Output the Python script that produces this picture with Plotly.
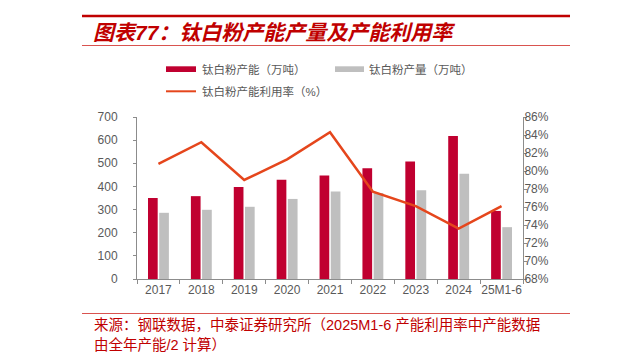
import plotly.graph_objects as go

categories = ["2017", "2018", "2019", "2020", "2021", "2022", "2023", "2024", "25M1-6"]
capacity = [350, 358, 397, 429, 447, 479, 508, 618, 294]      # 钛白粉产能（万吨）
output = [286, 299, 312, 346, 378, 372, 384, 455, 224]        # 钛白粉产量（万吨）
utilization = [80.8, 83.2, 79.0, 81.3, 84.3, 77.7, 76.1, 73.6, 76.1]  # 产能利用率（%）

left_ticks = [0, 100, 200, 300, 400, 500, 600, 700]
right_ticks = [68, 70, 72, 74, 76, 78, 80, 82, 84, 86]
right_tick_labels = ["68%", "70%", "72%", "74%", "76%", "78%", "80%", "82%", "84%", "86%"]

RED = "#C00030"
GREY = "#BFBFBF"
LINE = "#E5461C"
AXIS = "#8C8C8C"
TICKTXT = "#595959"
TITLE_RED = "#C00000"

W, H = 621, 356
L, R, T, B = 129, 106, 109, 85
PW, PH = W - L - R, H - T - B

def px(x):
    return (x - L) / PW

def py(y):
    return (H - B - y) / PH

fig = go.Figure()
fig.add_trace(go.Bar(x=categories, y=capacity, name="钛白粉产能（万吨）",
                     marker=dict(color=RED, line=dict(width=0)), showlegend=False))
fig.add_trace(go.Bar(x=categories, y=output, name="钛白粉产量（万吨）",
                     marker=dict(color=GREY, line=dict(width=0)), showlegend=False))
fig.add_trace(go.Scatter(x=categories, y=utilization, name="钛白粉产能利用率（%）",
                         mode="lines", line=dict(color=LINE, width=2.5),
                         yaxis="y2", showlegend=False))

tickfont = dict(family="Liberation Sans, Arial, sans-serif", size=12, color=TICKTXT)

fig.update_layout(
    width=W, height=H,
    margin=dict(l=L, r=R, t=T, b=B, pad=0),
    paper_bgcolor="white", plot_bgcolor="white",
    barmode="group", bargap=0.478, bargroupgap=0.134,
    xaxis=dict(type="category", showline=True, linecolor=AXIS, linewidth=1,
               ticks="outside", tickson="boundaries", ticklen=4, tickcolor=AXIS,
               tickangle=0, tickfont=tickfont, showgrid=False, zeroline=False,
               ticklabelstandoff=0),
    yaxis=dict(range=[0, 700], tickvals=left_ticks, showline=True, linecolor=AXIS,
               linewidth=1, ticks="outside", ticklen=3, tickcolor=AXIS,
               tickfont=tickfont, showgrid=False, zeroline=False, ticklabelstandoff=13),
    yaxis2=dict(range=[68, 86], tickvals=right_ticks, ticktext=right_tick_labels,
                overlaying="y", side="right", showline=True, linecolor=AXIS, linewidth=1,
                ticks="outside", ticklen=3, tickcolor=AXIS, tickfont=tickfont,
                showgrid=False, zeroline=False, ticklabelstandoff=-5),
)

shapes = []
for x0, x1 in [(74, 562), (607, 621)]:
    shapes.append(dict(type="line", xref="paper", yref="paper", x0=px(x0), x1=px(x1),
                       y0=py(8), y1=py(8), line=dict(color=TITLE_RED, width=2.6)))
    shapes.append(dict(type="line", xref="paper", yref="paper", x0=px(x0), x1=px(x1),
                       y0=py(37.5), y1=py(37.5), line=dict(color="#D9534F", width=1)))
    shapes.append(dict(type="line", xref="paper", yref="paper", x0=px(x0), x1=px(x1),
                       y0=py(305.5), y1=py(305.5), line=dict(color="#D9534F", width=1.2)))
shapes.append(dict(type="rect", xref="paper", yref="paper", x0=px(158), x1=px(188),
                   y0=py(64), y1=py(58.3), fillcolor=RED, line=dict(width=0)))
shapes.append(dict(type="rect", xref="paper", yref="paper", x0=px(327), x1=px(356),
                   y0=py(64), y1=py(58.3), fillcolor=GREY, line=dict(width=0)))
shapes.append(dict(type="line", xref="paper", yref="paper", x0=px(158), x1=px(188),
                   y0=py(83.3), y1=py(83.3), line=dict(color=LINE, width=2)))
fig.update_layout(shapes=shapes)

cjk = "Liberation Sans, Noto Sans CJK SC, sans-serif"
ann = []
ann.append(dict(text="<b><i>图表77：钛白粉产能产量及产能利用率</i></b>", xref="paper", yref="paper",
                x=px(84), y=py(24.5), xanchor="left", yanchor="middle", showarrow=False,
                borderpad=0, font=dict(family=cjk, size=21, color=TITLE_RED)))
legend_items = [("钛白粉产能（万吨）", 193, 61), ("钛白粉产量（万吨）", 360, 61),
                ("钛白粉产能利用率（%）", 193, 83.3)]
for txt, x, y in legend_items:
    ann.append(dict(text=txt, xref="paper", yref="paper", x=px(x), y=py(y),
                    xanchor="left", yanchor="middle", showarrow=False, borderpad=0,
                    font=dict(family=cjk, size=11.5, color=TICKTXT)))
ann.append(dict(text="来源：钢联数据，中泰证券研究所（2025M1-6 产能利用率中产能数据",
                xref="paper", yref="paper", x=px(85), y=py(316.7), xanchor="left",
                yanchor="middle", showarrow=False, borderpad=0,
                font=dict(family=cjk, size=14.5, color=TITLE_RED)))
ann.append(dict(text="由全年产能/2 计算）",
                xref="paper", yref="paper", x=px(85), y=py(336.7), xanchor="left",
                yanchor="middle", showarrow=False, borderpad=0,
                font=dict(family=cjk, size=14.5, color=TITLE_RED)))
fig.update_layout(annotations=ann)

fig.write_html("out.html")
